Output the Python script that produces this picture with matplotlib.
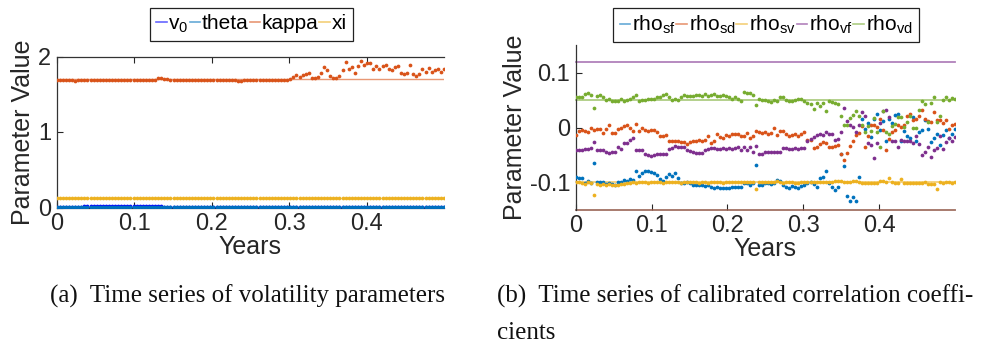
import numpy as np
import matplotlib
matplotlib.use("Agg")
import matplotlib.pyplot as plt
from matplotlib.lines import Line2D

# ---------------- data ----------------
n_days = 127
days = np.arange(n_days)          # trading-day index
years = days / 252.0

v0 = [0.012,0.012,0.012,0.013,0.012,0.013,0.012,0.013,0.013,0.014,
      0.014,0.015,0.015,0.016,0.016,0.017,0.017,0.018,0.018,0.018,
      0.019,0.019,0.018,0.018,0.018,0.017,0.017,0.016,0.016,0.015,
      0.015,0.015,0.014,0.014,0.014,0.013,0.013,0.013,0.013,0.012,
      0.012,0.012,0.012,0.012,0.012,0.012,0.011,0.011,0.011,0.011,
      0.011,0.011,0.011,0.011,0.011,0.011,0.011,0.011,0.011,0.011,
      0.011,0.011,0.011,0.011,0.011,0.011,0.011,0.011,0.011,0.011,
      0.011,0.011,0.011,0.011,0.011,0.011,0.010,0.010,0.010,0.010,
      0.010,0.010,0.010,0.010,0.010,0.009,0.009,0.009,0.009,0.009,
      0.009,0.009,0.009,0.009,0.009,0.008,0.008,0.008,0.008,0.008,
      0.008,0.008,0.008,0.008,0.008,0.008,0.008,0.008,0.008,0.008,
      0.008,0.008,0.008,0.008,0.008,0.008,0.008,0.008,0.008,0.008,
      0.008,0.008,0.008,0.008,0.008,0.008,0.008]
theta = [
      0.004,0.004,0.004,0.004,0.005,0.004,0.004,0.004,0.004,0.005,
      0.005,0.005,0.005,0.005,0.006,0.006,0.006,0.006,0.006,0.006,
      0.006,0.006,0.006,0.006,0.005,0.005,0.005,0.005,0.005,0.005,
      0.005,0.005,0.005,0.005,0.005,0.004,0.004,0.004,0.004,0.004,
      0.004,0.004,0.004,0.004,0.004,0.004,0.004,0.004,0.004,0.004,
      0.004,0.004,0.004,0.004,0.004,0.004,0.004,0.004,0.004,0.004,
      0.004,0.004,0.004,0.004,0.004,0.004,0.004,0.004,0.004,0.004,
      0.004,0.004,0.004,0.004,0.004,0.004,0.004,0.004,0.004,0.004,
      0.004,0.004,0.004,0.004,0.004,0.003,0.003,0.003,0.003,0.003,
      0.003,0.003,0.003,0.003,0.003,0.003,0.003,0.003,0.003,0.003,
      0.003,0.003,0.003,0.003,0.003,0.003,0.003,0.003,0.003,0.003,
      0.003,0.003,0.003,0.003,0.003,0.003,0.003,0.003,0.003,0.003,
      0.003,0.003,0.003,0.003,0.003,0.003,0.003]
kappa = [1.690,1.690,1.689,1.690,1.689,1.688,1.676,1.688,1.689,1.690,
         1.690,1.690,1.690,1.690,1.690,1.691,1.690,1.690,1.691,1.690,
         1.691,1.690,1.690,1.691,1.690,1.690,1.691,1.690,1.690,1.691,
         1.690,1.692,1.695,1.712,1.718,1.705,1.700,1.695,1.692,1.690,
         1.690,1.690,1.688,1.690,1.689,1.690,1.691,1.690,1.690,1.690,
         1.689,1.690,1.690,1.690,1.690,1.690,1.689,1.690,1.688,1.682,
         1.676,1.690,1.690,1.689,1.690,1.690,1.690,1.690,1.690,1.690,
         1.690,1.690,1.690,1.690,1.690,1.690,
         1.704,1.722,1.753,1.731,1.753,1.762,1.784,1.718,1.718,1.722,
         1.775,1.864,1.820,1.740,1.718,1.718,1.740,1.820,1.926,1.837,
         1.859,1.788,1.873,1.939,1.882,1.908,1.917,1.837,1.873,1.837,
         1.877,1.886,1.828,1.820,1.855,1.873,1.775,1.766,1.784,1.882,
         1.766,1.740,1.762,1.830,1.800,1.850,1.790,1.820,1.840,1.800,
         1.830]
xi = [
      0.126,0.126,0.125,0.126,0.126,0.125,0.126,0.126,0.126,0.125,
      0.126,0.126,0.126,0.125,0.126,0.126,0.126,0.126,0.125,0.126,
      0.126,0.126,0.126,0.126,0.125,0.126,0.126,0.126,0.126,0.126,
      0.125,0.126,0.126,0.126,0.126,0.126,0.125,0.126,0.126,0.126,
      0.126,0.126,0.126,0.125,0.126,0.126,0.126,0.126,0.126,0.126,
      0.125,0.126,0.126,0.126,0.126,0.126,0.126,0.125,0.126,0.126,
      0.126,0.126,0.126,0.126,0.125,0.126,0.126,0.126,0.126,0.126,
      0.126,0.125,0.126,0.126,0.126,0.126,0.126,0.126,0.125,0.126,
      0.126,0.126,0.126,0.126,0.126,0.126,0.125,0.126,0.126,0.126,
      0.126,0.126,0.126,0.125,0.126,0.126,0.126,0.126,0.126,0.127,
      0.126,0.126,0.126,0.125,0.126,0.126,0.126,0.126,0.126,0.126,
      0.126,0.125,0.126,0.126,0.126,0.126,0.126,0.126,0.126,0.125,
      0.126,0.126,0.126,0.126,0.126,0.126,0.126]
vol_ref = {"v0": 0.010, "theta": 0.004, "kappa": 1.700, "xi": 0.125}

rho_sf = [-0.091,-0.093,-0.093,-0.101,-0.098,-0.102,-0.065,-0.099,-0.099,-0.099,
          -0.104,-0.101,-0.104,-0.105,-0.099,-0.099,-0.096,-0.097,-0.095,-0.096,
          -0.080,-0.088,-0.083,-0.080,-0.080,-0.081,-0.084,-0.087,-0.095,-0.097,
          -0.090,-0.085,-0.089,-0.084,-0.092,-0.101,-0.101,-0.100,-0.101,-0.105,
          -0.105,-0.105,
          -0.105,-0.107,-0.106,-0.108,-0.111,-0.108,-0.110,-0.110,-0.110,-0.110,
          -0.108,-0.108,-0.108,-0.108,-0.101,-0.102,-0.105,-0.101,-0.069,-0.105,
          -0.105,-0.102,-0.102,-0.103,-0.101,-0.096,-0.098,-0.105,-0.108,-0.110,
          -0.107,-0.109,-0.110,-0.107,-0.105,-0.102,-0.099,-0.104,-0.108,-0.092,
          -0.090,-0.079,-0.101,
          -0.108,-0.115,-0.108,-0.049,-0.071,-0.125,-0.134,-0.128,-0.135,-0.090,
          0.016,-0.003,0.009,-0.018,0.015,0.025,-0.005,0.012,-0.024,0.015,
          0.009,0.022,0.025,-0.024,-0.007,-0.015,-0.019,0.019,-0.025,-0.008,
          -0.005,0.013,-0.003,-0.027,-0.019,-0.012,-0.032,-0.013,-0.004,-0.020,
          -0.012,-0.003]
rho_sd = [-0.013,-0.007,-0.005,-0.007,-0.008,-0.001,-0.005,-0.003,-0.002,-0.010,
          -0.003,0.004,-0.010,-0.010,-0.003,-0.001,0.003,0.005,-0.001,-0.007,
          0.007,-0.007,-0.001,-0.005,-0.007,-0.005,-0.005,-0.008,-0.016,-0.016,
          -0.013,-0.024,-0.024,-0.024,-0.024,-0.027,-0.027,-0.030,-0.027,-0.025,
          -0.024,-0.022,
          -0.025,-0.022,-0.016,-0.028,-0.024,-0.012,-0.018,-0.019,-0.013,-0.016,
          -0.011,-0.012,-0.012,-0.015,-0.015,-0.010,-0.019,-0.015,-0.007,-0.008,
          -0.010,-0.009,-0.012,-0.010,-0.001,-0.014,-0.006,-0.007,-0.012,-0.016,
          -0.013,-0.012,-0.016,-0.012,-0.009,-0.022,-0.022,-0.038,-0.036,-0.030,
          -0.026,-0.028,-0.036,
          -0.036,-0.033,-0.032,-0.048,-0.060,-0.047,-0.033,-0.024,-0.013,-0.010,
          0.003,-0.036,-0.015,0.004,0.005,0.001,0.015,-0.005,-0.041,-0.021,
          -0.008,-0.005,0.005,0.001,0.005,0.021,0.025,0.013,0.016,0.021,
          0.032,0.016,0.012,0.010,0.028,0.013,0.013,0.009,0.014,-0.002,
          0.004,0.006]
rho_sv = [-0.100,-0.100,-0.101,-0.103,-0.100,-0.101,-0.123,-0.104,-0.105,-0.104,
          -0.106,-0.104,-0.105,-0.106,-0.105,-0.104,-0.104,-0.102,-0.101,-0.100,
          -0.101,-0.100,-0.100,-0.100,-0.101,-0.100,-0.100,-0.100,-0.100,-0.101,
          -0.100,-0.100,-0.100,-0.100,-0.100,-0.101,-0.100,-0.100,-0.100,-0.100,
          -0.100,-0.101,
          -0.100,-0.100,-0.101,-0.100,-0.100,-0.100,-0.100,-0.101,-0.100,-0.100,
          -0.100,-0.100,-0.099,-0.099,-0.100,-0.099,-0.100,-0.099,-0.113,-0.099,
          -0.099,-0.099,-0.100,-0.100,-0.099,-0.098,-0.099,-0.101,-0.100,-0.100,
          -0.100,-0.101,-0.101,-0.100,-0.100,-0.100,-0.099,-0.100,-0.100,-0.099,
          -0.099,-0.100,-0.100,
          -0.100,-0.098,-0.097,-0.097,-0.100,-0.100,-0.099,-0.098,-0.098,-0.100,
          -0.102,-0.102,-0.102,-0.102,-0.102,-0.102,-0.098,-0.098,-0.100,-0.092,
          -0.100,-0.102,-0.101,-0.095,-0.102,-0.102,-0.102,-0.102,-0.102,-0.102,
          -0.102,-0.100,-0.103,-0.103,-0.103,-0.113,-0.100,-0.101,-0.100,-0.100,
          -0.101,-0.100]
rho_vf = [-0.041,-0.042,-0.042,-0.040,-0.039,-0.038,-0.027,-0.042,-0.042,-0.042,
          -0.045,-0.047,-0.044,-0.044,-0.036,-0.039,-0.029,-0.029,-0.022,-0.019,
          -0.042,-0.041,-0.041,-0.048,-0.050,-0.053,-0.050,-0.049,-0.049,-0.049,
          -0.049,-0.039,-0.037,-0.033,-0.036,-0.036,-0.036,-0.042,-0.043,-0.045,
          -0.047,-0.047,
          -0.047,-0.041,-0.039,-0.037,-0.038,-0.040,-0.039,-0.038,-0.040,-0.037,
          -0.040,-0.037,-0.036,-0.042,-0.036,-0.041,-0.036,-0.044,-0.033,-0.048,
          -0.049,-0.045,-0.045,-0.045,-0.045,-0.045,-0.045,-0.038,-0.037,-0.040,
          -0.040,-0.037,-0.039,-0.037,-0.038,-0.025,-0.021,-0.018,-0.013,-0.012,
          -0.013,-0.008,-0.012,
          -0.012,-0.022,-0.021,-0.008,0.036,0.012,0.005,0.001,-0.008,0.005,
          0.028,0.021,-0.028,-0.032,-0.056,-0.028,0.008,0.030,0.032,0.020,
          -0.024,-0.025,-0.035,-0.022,-0.024,-0.024,-0.024,-0.028,-0.015,-0.030,
          -0.051,-0.044,-0.035,-0.054,-0.042,-0.037,-0.015,-0.039,-0.027,-0.019,
          -0.025,-0.018]
rho_vd = [0.055,0.055,0.055,0.062,0.064,0.059,0.036,0.058,0.059,0.055,
          0.050,0.052,0.049,0.049,0.049,0.053,0.048,0.050,0.053,0.055,
          0.060,0.048,0.050,0.051,0.053,0.052,0.052,0.056,0.055,0.059,
          0.061,0.056,0.050,0.052,0.050,0.055,0.060,0.058,0.058,0.057,
          0.060,0.059,
          0.058,0.061,0.058,0.059,0.061,0.057,0.057,0.059,0.058,0.056,
          0.052,0.055,0.052,0.048,0.065,0.063,0.063,0.059,0.041,0.052,
          0.051,0.050,0.049,0.047,0.050,0.049,0.056,0.056,0.050,0.049,
          0.049,0.050,0.052,0.052,0.049,0.045,0.043,0.034,0.045,0.040,
          0.044,0.031,0.048,
          0.047,0.045,0.043,0.021,0.004,0.005,0.017,0.022,0.030,0.021,
          0.005,-0.008,0.002,-0.007,0.018,-0.008,-0.035,0.030,-0.009,-0.012,
          0.002,0.007,0.019,0.020,0.001,0.010,0.021,-0.001,-0.001,0.032,
          0.048,0.043,0.010,0.045,0.056,0.010,0.021,0.051,0.055,0.050,
          0.054,0.052]
rho_ref = {"sf": -0.15, "sd": -0.15, "sv": -0.100, "vf": 0.120, "vd": 0.050}

vol_labels = [r"v$_0$", "theta", "kappa", "xi"]
rho_labels = [r"rho$_{\rm sf}$", r"rho$_{\rm sd}$", r"rho$_{\rm sv}$",
              r"rho$_{\rm vf}$", r"rho$_{\rm vd}$"]
x_ticks = [0, 0.1, 0.2, 0.3, 0.4]

# ---------------- style ----------------
SANS = ["Liberation Sans", "DejaVu Sans"]
plt.rcParams["font.family"] = SANS
plt.rcParams["mathtext.fontset"] = "custom"
plt.rcParams["mathtext.rm"] = "Liberation Sans"
plt.rcParams["mathtext.it"] = "Liberation Sans"
plt.rcParams["xtick.direction"] = "in"
plt.rcParams["ytick.direction"] = "in"

C_BLUE = "#0072BD"; C_ORANGE = "#D95319"; C_YELLOW = "#EDB120"
C_PURPLE = "#7E2F8E"; C_GREEN = "#77AC30"; C_PUREBLUE = "#0000FF"
TXT = "#262626"
LINE_ALPHA = 0.6

W, H = 1006, 349
fig = plt.figure(figsize=(W / 100, H / 100), dpi=100)

def px_axes(x0, x1, ytop, ybot):
    return fig.add_axes([x0 / W, 1 - ybot / H, (x1 - x0) / W, (ybot - ytop) / H])

tick_fs = 17
label_fs = 18
leg_fs = 15

leg_kw = dict(loc="center", bbox_transform=fig.transFigure, fontsize=leg_fs,
              handlelength=0.5, handletextpad=0.08, columnspacing=0.05,
              borderpad=0.3, borderaxespad=0, frameon=True, fancybox=False,
              edgecolor="#222222", framealpha=1)

# ---------------- left panel ----------------
axL = px_axes(56.7, 444, 56.5, 207.5)
vol_series = [(v0, C_PUREBLUE, "v0"), (theta, C_BLUE, "theta"),
              (kappa, C_ORANGE, "kappa"), (xi, C_YELLOW, "xi")]
handlesL = []
for (vals, col, key), lab in zip(vol_series, vol_labels):
    axL.axhline(vol_ref[key], color=col, lw=1.0, alpha=LINE_ALPHA, zorder=2)
    axL.plot(years, vals, "o", ms=2.7, mew=0, color=col, zorder=3)
    handlesL.append(Line2D([], [], color=col, lw=1.2, alpha=LINE_ALPHA, label=lab))
axL.set_xlim(0, years[-1])
axL.set_ylim(0, 2)
axL.set_yticks([0, 1, 2])
axL.set_xticks(x_ticks)
axL.set_xticklabels(["0", "0.1", "0.2", "0.3", "0.4"])
axL.tick_params(axis="both", labelsize=tick_fs, colors=TXT, length=4, width=0.8,
                top=True, right=False, pad=4)
for s in ["left", "bottom", "top"]:
    axL.spines[s].set_color("#333333"); axL.spines[s].set_linewidth(0.9)
axL.spines["right"].set_visible(False)
axL.set_xlabel("Years", fontsize=label_fs, color=TXT, labelpad=0)
axL.set_ylabel("Parameter Value", fontsize=label_fs, color=TXT, labelpad=2)
legL = axL.legend(handles=handlesL, bbox_to_anchor=(251.5 / W, 1 - 24.5 / H),
                  ncol=4, **leg_kw)
legL.get_frame().set_linewidth(0.9)

# ---------------- right panel ----------------
axR = px_axes(575.7, 955, 45.5, 209.5)
rho_series = [(rho_sf, C_BLUE, "sf"), (rho_sd, C_ORANGE, "sd"), (rho_sv, C_YELLOW, "sv"),
              (rho_vf, C_PURPLE, "vf"), (rho_vd, C_GREEN, "vd")]
handlesR = []
for (vals, col, key), lab in zip(rho_series, rho_labels):
    axR.axhline(rho_ref[key], color=col, lw=1.3, alpha=LINE_ALPHA, zorder=2,
                clip_on=False)
    axR.plot(years, vals, "o", ms=2.7, mew=0, color=col, zorder=3)
    handlesR.append(Line2D([], [], color=col, lw=1.2, alpha=LINE_ALPHA, label=lab))
axR.set_xlim(0, years[-1])
axR.set_ylim(-0.15, 0.15)
axR.set_yticks([-0.1, 0, 0.1])
axR.set_yticklabels(["-0.1", "0", "0.1"])
axR.set_xticks(x_ticks)
axR.set_xticklabels(["0", "0.1", "0.2", "0.3", "0.4"])
axR.tick_params(axis="both", labelsize=tick_fs, colors=TXT, length=4, width=0.8, pad=4)
axR.spines["top"].set_visible(False)
axR.spines["right"].set_visible(False)
axR.spines["bottom"].set_visible(False)
axR.spines["left"].set_color("#333333"); axR.spines["left"].set_linewidth(0.9)
axR.set_xlabel("Years", fontsize=label_fs, color=TXT, labelpad=0)
axR.set_ylabel("Parameter Value", fontsize=label_fs, color=TXT, labelpad=2)
legR = axR.legend(handles=handlesR, bbox_to_anchor=(766 / W, 1 - 25 / H),
                  ncol=5, **leg_kw)
legR.get_frame().set_linewidth(0.9)

# ---------------- captions ----------------
SERIF = ["Liberation Serif", "DejaVu Serif"]
cap_fs = 18
fig.text(248 / W, 1 - 296 / H, "(a)  Time series of volatility parameters",
         ha="center", va="center", fontsize=cap_fs, family=SERIF, color="#111111")
fig.text(497 / W, 1 - 296 / H, "(b)  Time series of calibrated correlation coeffi-",
         ha="left", va="center", fontsize=cap_fs, family=SERIF, color="#111111")
fig.text(497 / W, 1 - 333 / H, "cients",
         ha="left", va="center", fontsize=cap_fs, family=SERIF, color="#111111")

fig.savefig("out.png", dpi=100)
